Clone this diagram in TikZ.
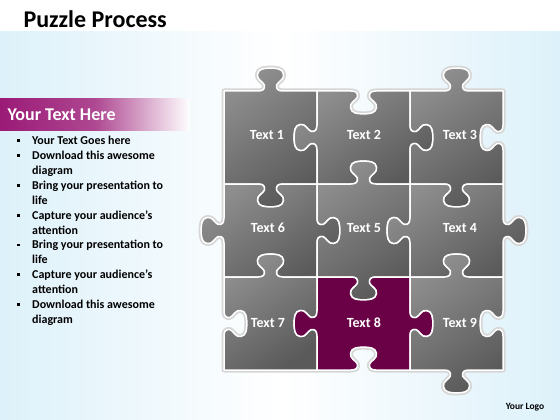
\documentclass[tikz,border=0pt]{standalone}
\usepackage{fontspec}
\setmainfont{Carlito}
\usepackage{tikz}
\usetikzlibrary{positioning}

\definecolor{pzlight}{HTML}{8E8E8E}
\definecolor{pzdark}{HTML}{5A5A5A}
\definecolor{pzplum}{HTML}{6A0046}
\definecolor{bannerplum}{HTML}{9A1A76}
\definecolor{bgblue}{HTML}{DDF1FA}

% one edge of a piece: start x, start y, dx, dy, knob (1 out, -1 in, 0 flat)
\newcommand{\pedge}[5]{%
 -- ({#1+.366*(#3)},{#2+.366*(#4)})
 .. controls ({#1+.42*(#3)},{#2+.42*(#4)}) and ({#1+.444*(#3)+(#5)*.022*(#4)},{#2+.444*(#4)-(#5)*.022*(#3)})
 .. ({#1+.433*(#3)+(#5)*.067*(#4)},{#2+.433*(#4)-(#5)*.067*(#3)})
 .. controls ({#1+.42*(#3)+(#5)*.10*(#4)},{#2+.42*(#4)-(#5)*.10*(#3)}) and ({#1+.349*(#3)+(#5)*.123*(#4)},{#2+.349*(#4)-(#5)*.123*(#3)})
 .. ({#1+.36*(#3)+(#5)*.18*(#4)},{#2+.36*(#4)-(#5)*.18*(#3)})
 .. controls ({#1+.37*(#3)+(#5)*.24*(#4)},{#2+.37*(#4)-(#5)*.24*(#3)}) and ({#1+.433*(#3)+(#5)*.246*(#4)},{#2+.433*(#4)-(#5)*.246*(#3)})
 .. ({#1+.50*(#3)+(#5)*.246*(#4)},{#2+.50*(#4)-(#5)*.246*(#3)})
 .. controls ({#1+.567*(#3)+(#5)*.246*(#4)},{#2+.567*(#4)-(#5)*.246*(#3)}) and ({#1+.63*(#3)+(#5)*.24*(#4)},{#2+.63*(#4)-(#5)*.24*(#3)})
 .. ({#1+.64*(#3)+(#5)*.18*(#4)},{#2+.64*(#4)-(#5)*.18*(#3)})
 .. controls ({#1+.651*(#3)+(#5)*.123*(#4)},{#2+.651*(#4)-(#5)*.123*(#3)}) and ({#1+.58*(#3)+(#5)*.10*(#4)},{#2+.58*(#4)-(#5)*.10*(#3)})
 .. ({#1+.567*(#3)+(#5)*.067*(#4)},{#2+.567*(#4)-(#5)*.067*(#3)})
 .. controls ({#1+.556*(#3)+(#5)*.022*(#4)},{#2+.556*(#4)-(#5)*.022*(#3)}) and ({#1+.58*(#3)},{#2+.58*(#4)})
 .. ({#1+.634*(#3)},{#2+.634*(#4)})
 -- ({#1+(#3)},{#2+(#4)})}

% whole piece: corner x, y, then top, right, bottom, left knobs
\newcommand{\piecepath}[6]{(#1,#2)
 \pedge{#1}{#2}{93}{0}{#3}
 \pedge{#1+93}{#2}{0}{93}{#4}
 \pedge{#1+93}{#2+93}{-93}{0}{#5}
 \pedge{#1}{#2+93}{0}{-93}{#6} -- cycle}

\newcommand{\sqbullet}{\raisebox{2.6pt}{\rule{2.8pt}{2.8pt}}}

\tikzset{
  piece/.style={draw=white, line width=1.5pt, line join=round},
  halo/.style={draw=black!16, line width=5pt, line join=round},
  pzlabel/.style={text=white, font=\fontsize{14}{16}\selectfont\bfseries},
  listtext/.style={font=\fontsize{12}{14.9}\selectfont\bfseries, inner sep=0pt, anchor=north west}
}

\begin{document}
\begin{tikzpicture}[x=1pt, y=-1pt]
\useasboundingbox (0,0) rectangle (560,420);
\fill[white] (0,0) rectangle (560,420);
\shade[left color=bgblue, right color=bgblue, middle color=white] (0,32) rectangle (560,420);

% title and side text
\node[anchor=west, font=\fontsize{24}{28}\selectfont\bfseries] (title) at (20,19) {Puzzle Process};
\shade[left color=bannerplum, right color=white, middle color=bannerplum!80!white] (0,99) rectangle (190,130);
\node[anchor=west, text=white, font=\fontsize{18}{20}\selectfont\bfseries] (head) at (4,115) {Your Text Here};
\node[listtext] (list) at (17,134) {%
  \begin{tabular}{@{}p{15pt}@{}l@{}}
  \sqbullet & Your Text Goes here\\
  \sqbullet & Download this awesome\\
            & diagram\\
  \sqbullet & Bring your presentation to\\
            & life\\
  \sqbullet & Capture your audience’s\\
            & attention\\
  \sqbullet & Bring your presentation to\\
            & life\\
  \sqbullet & Capture your audience’s\\
            & attention\\
  \sqbullet & Download this awesome\\
            & diagram
  \end{tabular}};

% shadow round the puzzle
\foreach \px/\py/\et/\er/\eb/\el in {224/91/1/-1/1/0, 317/91/-1/1/-1/1, 410/91/1/-1/1/-1,
    224/184/-1/1/-1/1, 317/184/1/-1/1/-1, 410/184/-1/1/-1/1,
    224/277/1/-1/0/-1, 317/277/-1/1/-1/1, 410/277/1/-1/1/-1}
  \path[halo] \piecepath{\px}{\py}{\et}{\er}{\eb}{\el};

% pieces
\foreach \px/\py/\et/\er/\eb/\el/\num/\ct/\cb/\lx/\ly in {
    224/91/1/-1/1/0/1/pzlight/pzdark/43/44, 317/91/-1/1/-1/1/2/pzlight/pzdark/47/44, 410/91/1/-1/1/-1/3/pzlight/pzdark/50/44,
    224/184/-1/1/-1/1/6/pzlight/pzdark/44/44, 317/184/1/-1/1/-1/5/pzlight/pzdark/47/44, 410/184/-1/1/-1/1/4/pzlight/pzdark/50/44,
    224/277/1/-1/0/-1/7/pzlight/pzdark/44/46, 317/277/-1/1/-1/1/8/pzplum/pzplum/47/46, 410/277/1/-1/1/-1/9/pzlight/pzdark/50/46}
{
  \path[piece, top color=\ct, bottom color=\cb, shading angle=35] \piecepath{\px}{\py}{\et}{\er}{\eb}{\el};
  \node[pzlabel] (t\num) at (\px+\lx,\py+\ly) {Text \num};
}

\node[font=\fontsize{9.5}{11}\selectfont\bfseries] (logo) at (525,407) {Your Logo};
\end{tikzpicture}
\end{document}
